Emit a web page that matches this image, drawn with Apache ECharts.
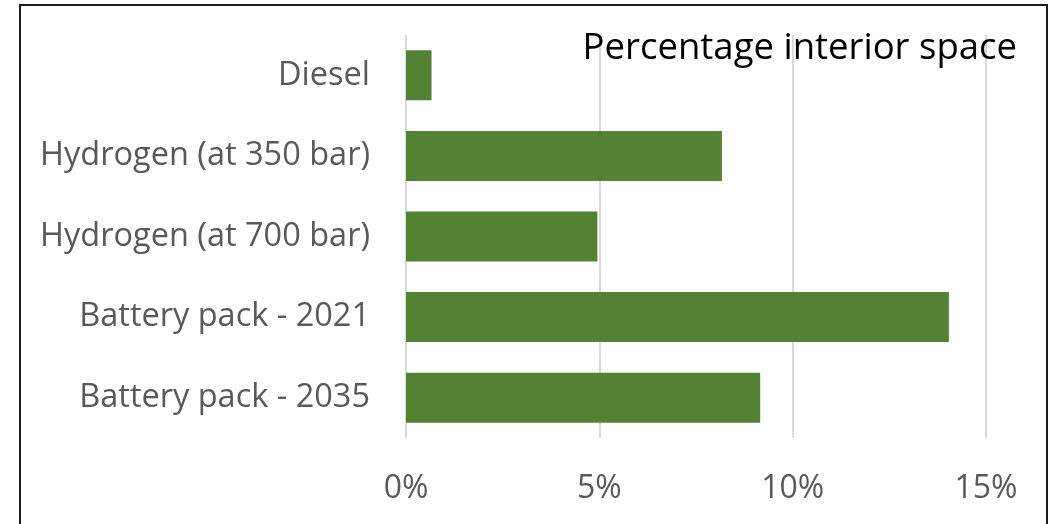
<!DOCTYPE html>
<html>
<head>
<meta charset="utf-8">
<script src="https://cdn.jsdelivr.net/npm/echarts@6/dist/echarts.min.js"></script>
<style>
  html, body { margin: 0; padding: 0; background: #fff; }
  #chart { width: 1056px; height: 524px; }
</style>
</head>
<body>
<div id="chart"></div>
<script>
// Share of interior space taken by each energy store
const categories = ['Diesel', 'Hydrogen (at 350 bar)', 'Hydrogen (at 700 bar)', 'Battery pack - 2021', 'Battery pack - 2035'];
const shareValues = [0.66, 8.17, 4.95, 14.04, 9.16];
const chartTitle = 'Percentage interior space';

const chart = echarts.init(document.getElementById('chart'));
const font = '"Open Sans", Lato, sans-serif';

chart.setOption({
  animation: false,
  backgroundColor: '#ffffff',
  title: {
    text: chartTitle,
    right: 34,
    top: 25,
    textStyle: { fontFamily: font, fontSize: 36.5, fontWeight: 'normal', color: '#000000' }
  },
  graphic: [{
    type: 'rect',
    shape: { x: 20, y: 5, width: 1027, height: 530 },
    style: { fill: 'none', stroke: '#1a1a1a', lineWidth: 2 },
    z: 100
  }],
  grid: { left: 406, right: 70, top: 35, bottom: 86, containLabel: false },
  xAxis: {
    type: 'value',
    min: 0,
    max: 15,
    interval: 5,
    axisLine: { show: false },
    axisTick: { show: false },
    splitLine: { show: true, lineStyle: { color: '#d9d9d9', width: 2 } },
    axisLabel: {
      formatter: '{value}%',
      fontFamily: font,
      fontSize: 32,
      color: '#595959',
      margin: 35
    }
  },
  yAxis: {
    type: 'category',
    data: categories,
    inverse: true,
    axisLine: { show: false },
    axisTick: { show: false },
    axisLabel: {
      fontFamily: font,
      fontSize: 32.5,
      color: '#595959',
      margin: 36,
      padding: [5, 0, 0, 0]
    }
  },
  series: [{
    type: 'bar',
    data: shareValues,
    barCategoryGap: '38%',
    itemStyle: { color: '#548235' }
  }]
});
</script>
</body>
</html>
